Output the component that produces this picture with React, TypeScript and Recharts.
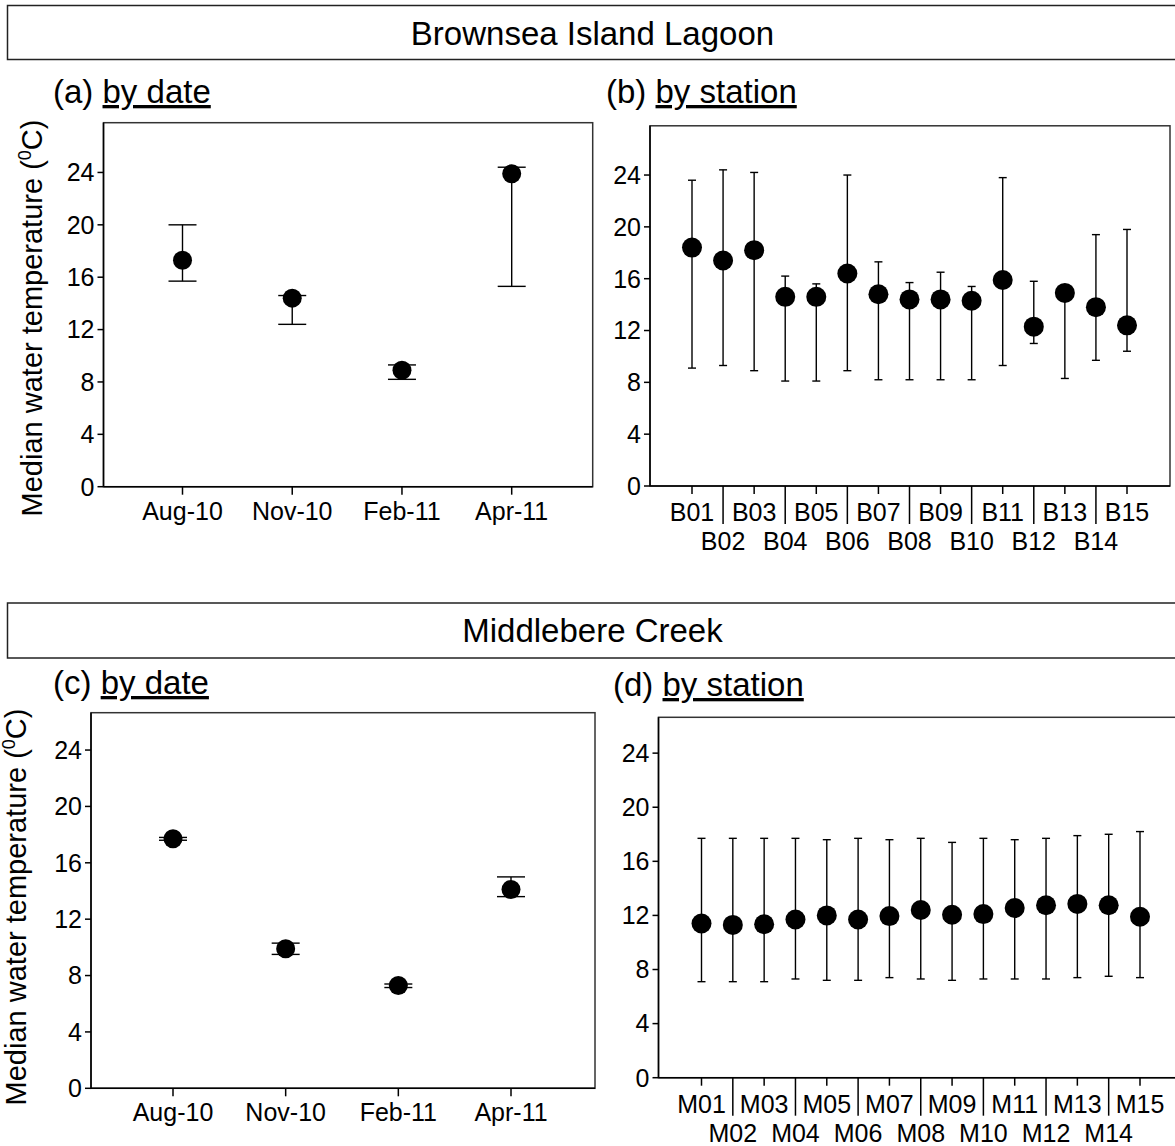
import { ComposedChart, ErrorBar, Line, XAxis, YAxis } from "recharts";

const FONT = "'Liberation Sans', Arial, Helvetica, sans-serif";
const TICK_FONT = 25;

// categories
const DATES = ["Aug-10", "Nov-10", "Feb-11", "Apr-11"];
const BROWNSEA_STATIONS = [
  "B01", "B02", "B03", "B04", "B05", "B06", "B07", "B08",
  "B09", "B10", "B11", "B12", "B13", "B14", "B15",
];
const MIDDLEBERE_STATIONS = [
  "M01", "M02", "M03", "M04", "M05", "M06", "M07", "M08",
  "M09", "M10", "M11", "M12", "M13", "M14", "M15",
];
const Y_TICKS = [0, 4, 8, 12, 16, 20, 24];

// Brownsea Island Lagoon, by sampling date (median + range)
const brownseaDateMedian = [17.3, 14.4, 8.9, 23.9];
const brownseaDateLow = [15.7, 12.4, 8.2, 15.3];
const brownseaDateHigh = [20.0, 14.6, 9.3, 24.4];

// Brownsea Island Lagoon, by station
const brownseaStationMedian = [18.4, 17.4, 18.2, 14.6, 14.6, 16.4, 14.8, 14.4, 14.4, 14.3, 15.9, 12.3, 14.9, 13.8, 12.4];
const brownseaStationLow = [9.1, 9.3, 8.9, 8.1, 8.1, 8.9, 8.2, 8.2, 8.2, 8.2, 9.3, 11.0, 8.3, 9.7, 10.4];
const brownseaStationHigh = [23.6, 24.4, 24.2, 16.2, 15.6, 24.0, 17.3, 15.7, 16.5, 15.4, 23.8, 15.8, 15.0, 19.4, 19.8];

// Middlebere Creek, by sampling date
const middlebereDateMedian = [17.7, 9.9, 7.3, 14.1];
const middlebereDateLow = [17.6, 9.5, 7.15, 13.6];
const middlebereDateHigh = [17.8, 10.3, 7.4, 15.0];

// Middlebere Creek, by station
const middlebereStationMedian = [11.4, 11.3, 11.35, 11.7, 12.0, 11.7, 11.95, 12.4, 12.05, 12.1, 12.55, 12.75, 12.85, 12.75, 11.9];
const middlebereStationLow = [7.1, 7.1, 7.1, 7.3, 7.2, 7.2, 7.4, 7.3, 7.2, 7.3, 7.3, 7.3, 7.4, 7.5, 7.4];
const middlebereStationHigh = [17.7, 17.7, 17.7, 17.7, 17.6, 17.7, 17.6, 17.7, 17.4, 17.7, 17.6, 17.7, 17.9, 18.0, 18.2];

type Row = { name: string; median: number; err: [number, number] };

function buildRows(names: string[], median: number[], low: number[], high: number[]): Row[] {
  return names.map((name, i) => ({
    name,
    median: median[i],
    err: [median[i] - low[i], high[i] - median[i]],
  }));
}

/** Date axis: short tick, single row of labels. */
function DateTick({ x, y, payload }: any) {
  return (
    <g>
      <line x1={x} x2={x} y1={y} y2={y + 8} stroke="#000" strokeWidth={1.5} />
      <text x={x} y={y + 33} textAnchor="middle" fontSize={TICK_FONT} fontFamily={FONT} fill="#000">
        {payload.value}
      </text>
    </g>
  );
}

/** Station axis: odd stations on the first row, even ones dropped to a second row behind a long tick. */
function StationTick({ x, y, payload, index }: any) {
  const lower = index % 2 === 1;
  return (
    <g>
      <line x1={x} x2={x} y1={y} y2={y + (lower ? 38 : 8)} stroke="#000" strokeWidth={1.5} />
      <text x={x} y={y + (lower ? 64 : 35)} textAnchor="middle" fontSize={TICK_FONT} fontFamily={FONT} fill="#000">
        {payload.value}
      </text>
    </g>
  );
}

interface Box { left: number; top: number; right: number; bottom: number }

interface PanelProps {
  data: Row[];
  frame: Box; // chart element, page coords
  plot: Box; // plotting area, page coords
  yMax: number;
  padLeft: number;
  padRight: number;
  dotRadius: number;
  capHalf: number;
  tick: (props: any) => any;
}

function Panel({ data, frame, plot, yMax, padLeft, padRight, dotRadius, capHalf, tick }: PanelProps) {
  const width = frame.right - frame.left;
  const height = frame.bottom - frame.top;
  return (
    <div style={{ position: "absolute", left: frame.left, top: frame.top }}>
      <ComposedChart
        width={width}
        height={height}
        data={data}
        margin={{ top: plot.top - frame.top, right: frame.right - plot.right, left: 0, bottom: 0 }}
      >
        <XAxis
          dataKey="name"
          type="category"
          scale="point"
          padding={{ left: padLeft, right: padRight }}
          interval={0}
          height={frame.bottom - plot.bottom}
          tickSize={0}
          tickMargin={0}
          tickLine={false}
          axisLine={{ stroke: "#000", strokeWidth: 1.5 }}
          tick={tick}
        />
        <YAxis
          type="number"
          domain={[0, yMax]}
          ticks={Y_TICKS}
          interval={0}
          allowDataOverflow
          width={plot.left - frame.left}
          tickSize={6}
          tickMargin={3}
          axisLine={{ stroke: "#000", strokeWidth: 1.5 }}
          tickLine={{ stroke: "#000", strokeWidth: 1.5 }}
          tick={{ fill: "#000", fontSize: TICK_FONT, fontFamily: FONT }}
        />
        <Line
          dataKey="median"
          stroke="none"
          legendType="none"
          activeDot={false}
          dot={{ r: dotRadius, fill: "#000", stroke: "#000", strokeWidth: 0 }}
          isAnimationActive={false}
        >
          <ErrorBar dataKey="err" direction="y" width={capHalf} stroke="#000" strokeWidth={1.4} />
        </Line>
      </ComposedChart>
    </div>
  );
}

const PLOT_A: Box = { left: 103.5, top: 122.7, right: 592.7, bottom: 486.7 };
const PLOT_B: Box = { left: 650, top: 125.8, right: 1170, bottom: 486 };
const PLOT_C: Box = { left: 91, top: 712.7, right: 595, bottom: 1088.3 };
const PLOT_D: Box = { left: 658.5, top: 717.3, right: 1183, bottom: 1077.7 };

function PlotFrame({ b }: { b: Box }) {
  return (
    <rect
      x={b.left}
      y={b.top}
      width={b.right - b.left}
      height={b.bottom - b.top}
      fill="none"
      stroke="#333"
      strokeWidth={1.5}
    />
  );
}

function PanelLabel({ x, y, tag, text }: { x: number; y: number; tag: string; text: string }) {
  return (
    <text x={x} y={y} fontSize={33} fontFamily={FONT} fill="#000">
      {tag}{" "}
      <tspan textDecoration="underline">{text}</tspan>
    </text>
  );
}

function YLabel({ x, y }: { x: number; y: number }) {
  return (
    <text
      x={x}
      y={y}
      transform={`rotate(-90 ${x} ${y})`}
      textAnchor="middle"
      fontSize={29}
      fontFamily={FONT}
      fill="#000"
    >
      Median water temperature (
      <tspan fontSize={18} dy={-11}>0</tspan>
      <tspan dy={11}>C)</tspan>
    </text>
  );
}

export default function App() {
  const brownseaByDate = buildRows(DATES, brownseaDateMedian, brownseaDateLow, brownseaDateHigh);
  const brownseaByStation = buildRows(BROWNSEA_STATIONS, brownseaStationMedian, brownseaStationLow, brownseaStationHigh);
  const middlebereByDate = buildRows(DATES, middlebereDateMedian, middlebereDateLow, middlebereDateHigh);
  const middlebereByStation = buildRows(MIDDLEBERE_STATIONS, middlebereStationMedian, middlebereStationLow, middlebereStationHigh);

  return (
    <div
      style={{
        position: "absolute",
        left: 0,
        top: 0,
        width: 1175,
        height: 1146,
        overflow: "hidden",
        background: "#fff",
      }}
    >
      <svg width={1175} height={1146} style={{ position: "absolute", left: 0, top: 0 }}>
        <rect x={7.5} y={5.5} width={1200} height={54} fill="none" stroke="#222" strokeWidth={1.5} />
        <text x={592.5} y={45} textAnchor="middle" fontSize={33} fontFamily={FONT} fill="#000">
          Brownsea Island Lagoon
        </text>
        <rect x={7.5} y={603} width={1200} height={55} fill="none" stroke="#222" strokeWidth={1.5} />
        <text x={592.5} y={642} textAnchor="middle" fontSize={33} fontFamily={FONT} fill="#000">
          Middlebere Creek
        </text>

        <PanelLabel x={53} y={103} tag="(a)" text="by date" />
        <PanelLabel x={606} y={103} tag="(b)" text="by station" />
        <PanelLabel x={53} y={694} tag="(c)" text="by date" />
        <PanelLabel x={613} y={696} tag="(d)" text="by station" />

        <YLabel x={42} y={318} />
        <YLabel x={26} y={907} />

        <PlotFrame b={PLOT_A} />
        <PlotFrame b={PLOT_B} />
        <PlotFrame b={PLOT_C} />
        <PlotFrame b={PLOT_D} />
      </svg>

      <Panel
        data={brownseaByDate}
        frame={{ left: 0, top: 100, right: 600, bottom: 560 }}
        plot={PLOT_A}
        yMax={27.8}
        padLeft={79}
        padRight={81}
        dotRadius={9.5}
        capHalf={14}
        tick={DateTick}
      />
      <Panel
        data={brownseaByStation}
        frame={{ left: 600, top: 100, right: 1175, bottom: 560 }}
        plot={PLOT_B}
        yMax={27.8}
        padLeft={42}
        padRight={43}
        dotRadius={10}
        capHalf={4}
        tick={StationTick}
      />
      <Panel
        data={middlebereByDate}
        frame={{ left: 0, top: 690, right: 600, bottom: 1146 }}
        plot={PLOT_C}
        yMax={26.65}
        padLeft={82}
        padRight={84}
        dotRadius={9.5}
        capHalf={14}
        tick={DateTick}
      />
      <Panel
        data={middlebereByStation}
        frame={{ left: 600, top: 690, right: 1183, bottom: 1146 }}
        plot={PLOT_D}
        yMax={26.65}
        padLeft={43}
        padRight={43}
        dotRadius={10}
        capHalf={4}
        tick={StationTick}
      />
    </div>
  );
}
